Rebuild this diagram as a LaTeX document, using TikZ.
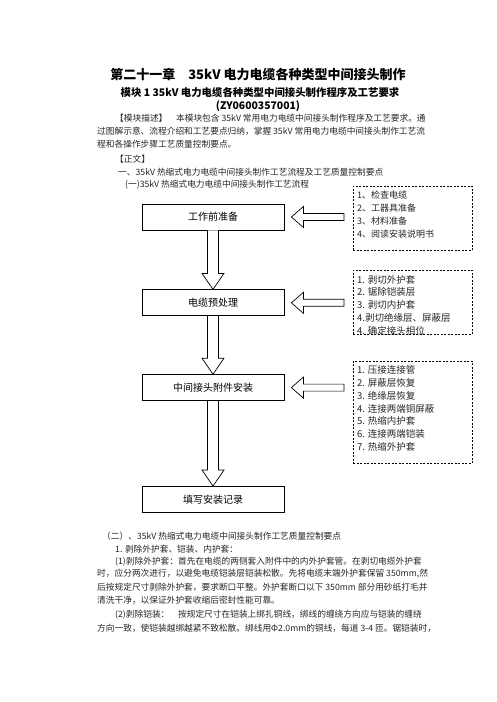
\documentclass[tikz,border=0pt]{standalone}
\usepackage{fontspec}
\setmainfont{Noto Sans CJK SC}
\usetikzlibrary{positioning,calc}

\tikzset{
  stage/.style={draw, line width=0.8pt, minimum width=142pt, minimum height=26pt, inner sep=0pt, font=\fontsize{10}{12}\selectfont},
  notebox/.style={draw, dash pattern=on 2pt off 1.5pt, line width=0.7pt, minimum width=119pt, anchor=north west, inner sep=0pt},
  notelist/.style={anchor=north west, align=left, inner sep=0pt, text=black!85},
  flowarrow/.style={draw, line width=0.7pt, fill=white},
  bodyline/.style={anchor=west, inner sep=0pt, font=\fontsize{8.7}{10}\selectfont, text=black!85},
  headline/.style={inner sep=0pt, font=\bfseries\fontsize{#1}{#1}\selectfont},
}

\newcommand\flowdown[2]{%
  \draw[flowarrow] let \p1=(#1.south), \p2=(#2.north) in
    (\x1-5.5pt,\y1) -- (\x1-5.5pt,\y2+16pt) -- (\x1-11pt,\y2+16pt) -- (\x1,\y2)
    -- (\x1+11pt,\y2+16pt) -- (\x1+5.5pt,\y2+16pt) -- (\x1+5.5pt,\y1);}
\newcommand\flowleft[2]{%
  \draw[flowarrow] let \p1=(#1.east), \p2=(#2.west) in
    (\x2-9pt,\y1+3.5pt) -- (\x1+19pt,\y1+3.5pt) -- (\x1+19pt,\y1+10.5pt) -- (\x1+7pt,\y1)
    -- (\x1+19pt,\y1-10.5pt) -- (\x1+19pt,\y1-3.5pt) -- (\x2-9pt,\y1-3.5pt) -- cycle;}

\begin{document}
\begin{tikzpicture}[x=1pt, y=-1pt]
\useasboundingbox (0,0) rectangle (496,702);

% headings
\node[headline=13] (title) at (258,75) {第二十一章\hspace{1em}35kV 电力电缆各种类型中间接头制作};
\node[headline=10.4] (module) at (260,93) {模块 1 35kV 电力电缆各种类型中间接头制作程序及工艺要求};
\node[headline=10.4] (code) at (258,106) {(ZY0600357001)};

% running text
\foreach \x/\y/\t [count=\i] in {
  115/118/{【模块描述】\hspace{1em}本模块包含 35kV 常用电力电缆中间接头制作程序及工艺要求。通},
  97/131/{过图解示意、流程介绍和工艺要点归纳，掌握 35kV 常用电力电缆中间接头制作工艺流},
  97/144/{程和各操作步骤工艺质量控制要点。},
  115/159/{【正文】},
  118/172/{一、35kV 热缩式电力电缆中间接头制作工艺流程及工艺质量控制要点},
  125/185/{(一)35kV 热缩式电力电缆中间接头制作工艺流程},
  102/536/{（二）、35kV 热缩式电力电缆中间接头制作工艺质量控制要点},
  115/549/{1. 剥除外护套、铠装、内护套：},
  115/562/{(1)剥除外护套：首先在电缆的两侧套入附件中的内外护套管。在剥切电缆外护套},
  97/574/{时，应分两次进行，以避免电缆铠装层铠装松散。先将电缆末端外护套保留 350mm{,}然},
  97/587/{后按规定尺寸剥除外护套，要求断口平整。外护套断口以下 350mm 部分用砂纸打毛并},
  97/600/{清洗干净，以保证外护套收缩后密封性能可靠。},
  115/615/{(2)剥除铠装：\hspace{1em}按规定尺寸在铠装上绑扎铜线，绑线的缠绕方向应与铠装的缠绕},
  97/628/{方向一致，使铠装越绑越紧不致松散。绑线用Φ2.0mm的铜线，每道 3-4 匝。锯铠装时，}}
  \node[bodyline] (txt\i) at (\x,\y) {\t};

% flow stages
\node[stage] (prep) at (213,217) {工作前准备};
\node[stage, below=59pt of prep] (pretreat) {电缆预处理};
\node[stage, below=58pt of pretreat] (fitting) {中间接头附件安装};
\node[stage, below=85pt of fitting] (record) {填写安装记录};

% dashed note boxes
\node[notebox, minimum height=64pt] (noteA) at (353,186) {};
\node[notelist, font=\fontsize{9}{13}\selectfont] (listA) at ($(noteA.north west)+(4,4.5)$)
  {1、检查电缆\\2、工器具准备\\3、材料准备\\4、阅读安装说明书};
\node[notebox, minimum height=64pt] (noteB) at (353,270) {};
\begin{scope}
  \clip (noteB.north west) rectangle (noteB.south east);
  \node[notelist, font=\fontsize{9.5}{12.8}\selectfont] (listB) at ($(noteB.north west)+(4,5)$)
    {1. 剥切外护套\\2. 锯除铠装层\\3. 剥切内护套\\4.剥切绝缘层、屏蔽层\\4. 确定接头相位};
\end{scope}
\node[notebox, minimum height=102pt] (noteC) at (353,361) {};
\node[notelist, font=\fontsize{9.5}{12.8}\selectfont] (listC) at ($(noteC.north west)+(4,4.5)$)
  {1. 压接连接管\\2. 屏蔽层恢复\\3. 绝缘层恢复\\4. 连接两端铜屏蔽\\5. 热缩内护套\\6. 连接两端铠装\\7. 热缩外护套};

% hollow arrows
\flowdown{prep}{pretreat}
\flowdown{pretreat}{fitting}
\flowdown{fitting}{record}
\flowleft{prep}{noteA}
\flowleft{pretreat}{noteB}
\flowleft{fitting}{noteC}
\end{tikzpicture}
\end{document}
